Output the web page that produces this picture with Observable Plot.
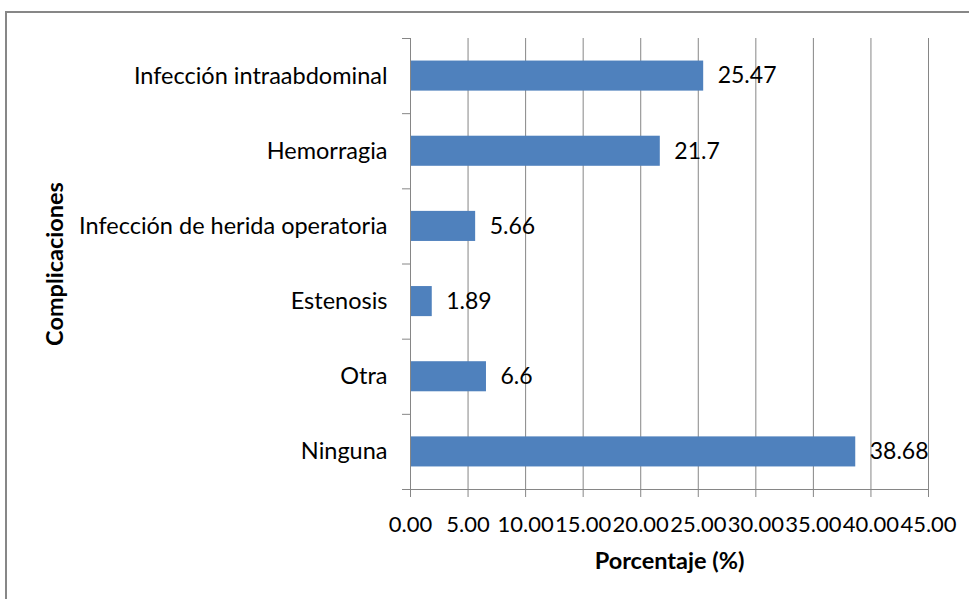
<!DOCTYPE html>
<html><head><meta charset="utf-8">
<script src="https://cdn.jsdelivr.net/npm/d3@7"></script>
<script src="https://cdn.jsdelivr.net/npm/@observablehq/plot@0.6"></script>
<style>
body{margin:0;background:#fff;}
#wrap{position:relative;width:969px;height:599px;overflow:hidden;background:#fff;}
#frame{position:absolute;left:5px;top:11px;width:2000px;height:2000px;border-top:2px solid #878787;border-left:2px solid #878787;box-sizing:border-box;pointer-events:none}
#chart{position:absolute;left:0;top:0;}
</style></head><body>
<div id="wrap"><div id="frame"></div><div id="chart"></div></div>
<script>
const categories = ["Infección intraabdominal", "Hemorragia", "Infección de herida operatoria", "Estenosis", "Otra", "Ninguna"];
const values = [25.47, 21.7, 5.66, 1.89, 6.6, 38.68];
const valueLabels = ["25.47", "21.7", "5.66", "1.89", "6.6", "38.68"];
const xTicks = [0, 5, 10, 15, 20, 25, 30, 35, 40, 45];
const xTitle = "Porcentaje (%)";
const yTitle = "Complicaciones";

const data = categories.map((c, i) => ({category: c, value: values[i], label: valueLabels[i], i}));
const bandEdges = d3.range(categories.length + 1);
const bandCenters = categories.map((c, i) => i + 0.5);
const gray = "#868686";

const chart = Plot.plot({
  width: 969, height: 599,
  marginLeft: 410, marginRight: 41, marginTop: 38, marginBottom: 110,
  style: {fontFamily: "Lato", fontSize: "22px", color: "#000", background: "transparent"},
  x: {domain: [0, 45]},
  y: {domain: [0, categories.length], reverse: true},
  marks: [
    Plot.ruleX(xTicks, {stroke: gray, strokeWidth: 1}),
    Plot.rectX(data, {x1: 0, x2: "value", y1: d => d.i + 0.3, y2: d => d.i + 0.7, fill: "#4F81BD"}),
    Plot.ruleY([categories.length], {stroke: gray}),
    Plot.ruleX([0], {stroke: gray}),
    Plot.axisX({ticks: xTicks, tickSize: 8, tickPadding: 19, tickFormat: d => d.toFixed(2), label: null, stroke: gray}),
    Plot.axisY({ticks: bandEdges, tickSize: 8, tickFormat: () => "", label: null, stroke: gray}),
    Plot.axisY({ticks: bandCenters, tickSize: 0, tickPadding: 23, tickFormat: d => categories[Math.round(d - 0.5)], label: null, fontSize: 23.5}),
    Plot.text(data, {x: "value", y: d => d.i + 0.5, text: "label", dx: 14, textAnchor: "start", fill: "#000", fontSize: 23}),
    Plot.text([xTitle], {frameAnchor: "bottom", lineAnchor: "middle", dy: 72, fontWeight: "bold", fill: "#000", fontSize: 23.5}),
    Plot.text([yTitle], {frameAnchor: "left", textAnchor: "middle", lineAnchor: "middle", dx: -355, rotate: -90, fontWeight: "bold", fill: "#000", fontSize: 23.5})
  ]
});
document.getElementById("chart").appendChild(chart);
</script>
</body></html>
